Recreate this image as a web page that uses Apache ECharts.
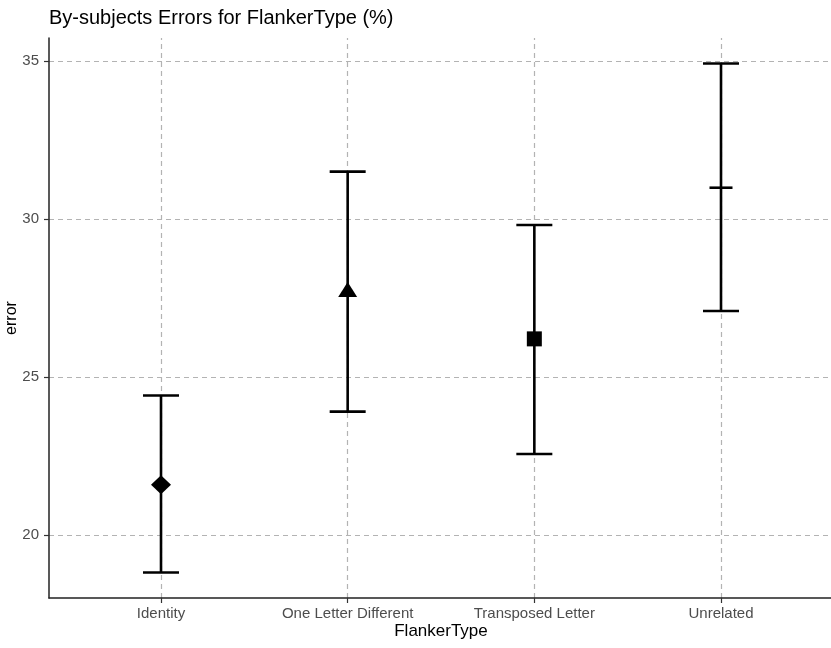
<!DOCTYPE html>
<html>
<head>
<meta charset="utf-8">
<script src="https://cdn.jsdelivr.net/npm/echarts@6/dist/echarts.min.js"></script>
<style>
html,body{margin:0;padding:0;background:#fff;}
#chart{width:831px;height:648px;}
</style>
</head>
<body>
<div id="chart"></div>
<script>
const categories = ['Identity', 'One Letter Different', 'Transposed Letter', 'Unrelated'];
const means = [21.60, 27.77, 26.21, 30.99];
const lower = [18.82, 23.91, 22.57, 27.09];
const upper = [24.42, 31.50, 29.81, 34.92];
const yTicks = [20, 25, 30, 35];

const FONT = 'Liberation Sans, Arial, sans-serif';
const markerSymbols = ['diamond', 'triangle', 'rect', 'rect'];
const markerSizes = [[20, 19], [19, 15], [15, 15], [23, 2.6]];

const xPos = categories.map((c, i) => i + 1);

const chart = echarts.init(document.getElementById('chart'), null, {renderer: 'canvas'});

const gridDash = {color: '#b3b3b3', width: 1.2, type: [5, 4]};

const option = {
  backgroundColor: '#ffffff',
  animation: false,
  title: {
    text: 'By-subjects Errors for FlankerType (%)',
    left: 44, top: 3,
    textStyle: {fontFamily: FONT, fontSize: 20, fontWeight: 'normal', color: '#000'}
  },
  grid: {left: 49, right: -2, top: 38, bottom: 50, containLabel: false, outerBoundsMode: 'none'},
  xAxis: {
    type: 'value', min: 0.4, max: 4.6,
    name: 'FlankerType', nameLocation: 'middle', nameGap: 25, nameMoveOverlap: false,
    nameTextStyle: {fontFamily: FONT, fontSize: 17, color: '#000'},
    axisLine: {show: true, onZero: false, lineStyle: {color: '#222', width: 1.5}},
    axisTick: {show: true, length: 5, customValues: xPos, lineStyle: {color: '#333', width: 1.2}},
    axisLabel: {
      customValues: xPos, margin: 8,
      fontFamily: FONT, fontSize: 15, color: '#4d4d4d',
      formatter: v => categories[Math.round(v) - 1] || ''
    },
    splitLine: {show: false}
  },
  yAxis: {
    type: 'value', min: 18.015, max: 35.725,
    name: 'error', nameLocation: 'middle', nameGap: 29, nameRotate: 90, nameMoveOverlap: false,
    nameTextStyle: {fontFamily: FONT, fontSize: 16, color: '#000'},
    axisLine: {show: true, onZero: false, lineStyle: {color: '#222', width: 1.5}},
    axisTick: {show: true, length: 5, customValues: yTicks, lineStyle: {color: '#333', width: 1.2}},
    axisLabel: {customValues: yTicks, margin: 10, fontFamily: FONT, fontSize: 15, color: '#4d4d4d'},
    splitLine: {show: false}
  },
  series: [
    {
      type: 'scatter', z: 0, zlevel: 0, data: [], silent: true,
      markLine: {
        silent: true, symbol: 'none', animation: false, z: 0,
        label: {show: false},
        lineStyle: gridDash,
        data: xPos.map(v => ({xAxis: v})).concat(yTicks.map(v => ({yAxis: v})))
      }
    },
    {
      type: 'custom', z: 10, silent: true,
      data: categories.map((c, i) => [xPos[i], lower[i], upper[i]]),
      renderItem: function (params, api) {
        const x = api.value(0), lo = api.value(1), hi = api.value(2);
        const pLo = api.coord([x, lo]);
        const pHi = api.coord([x, hi]);
        const half = 18;
        const st = {stroke: '#000', lineWidth: 2.6};
        return {
          type: 'group',
          children: [
            {type: 'line', shape: {x1: pLo[0], y1: pLo[1], x2: pHi[0], y2: pHi[1]}, style: st},
            {type: 'line', shape: {x1: pLo[0] - half, y1: pLo[1], x2: pLo[0] + half, y2: pLo[1]}, style: st},
            {type: 'line', shape: {x1: pHi[0] - half, y1: pHi[1], x2: pHi[0] + half, y2: pHi[1]}, style: st}
          ]
        };
      }
    },
    {
      type: 'scatter', z: 11, silent: true,
      data: means.map((m, i) => ({
        value: [xPos[i], m],
        symbol: markerSymbols[i],
        symbolSize: markerSizes[i]
      })),
      itemStyle: {color: '#000', opacity: 1}
    }
  ]
};

chart.setOption(option);
</script>
</body>
</html>
